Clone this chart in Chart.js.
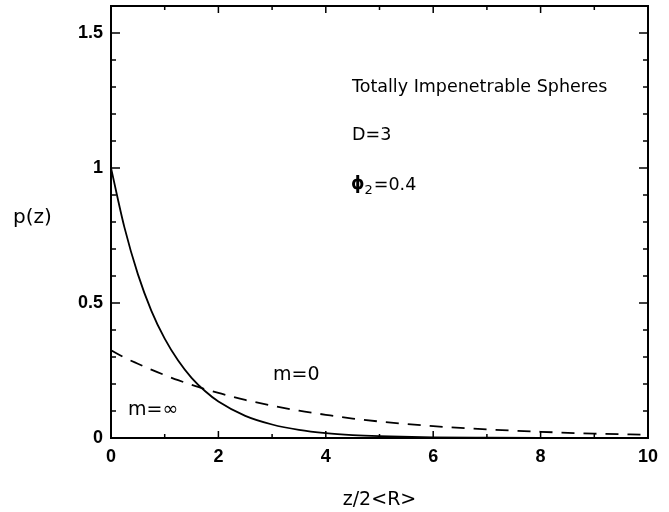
<!DOCTYPE html>
<html>
<head>
<meta charset="utf-8">
<script src="https://cdn.jsdelivr.net/npm/chart.js@4.4.0/dist/chart.umd.min.js"></script>
<style>
  html, body { margin: 0; padding: 0; background: #fff; }
</style>
</head>
<body>
<canvas id="chart" width="669" height="512"></canvas>
<script>
// values
const zValues   = [0, 0.25, 0.5, 0.75, 1, 1.25, 1.5, 1.75, 2, 2.5, 3, 3.5, 4, 4.5, 5, 6, 7, 8, 9, 10];
const pMInf     = [1, 0.78, 0.607, 0.472, 0.368, 0.287, 0.223, 0.174, 0.135, 0.082, 0.050, 0.030, 0.018, 0.011, 0.007, 0.0025, 0.001, 0.0003, 0.0001, 0];
const pMZero    = [0.325, 0.298, 0.275, 0.253, 0.233, 0.214, 0.197, 0.181, 0.167, 0.141, 0.120, 0.101, 0.086, 0.072, 0.061, 0.044, 0.032, 0.023, 0.016, 0.012];
const xTicks = [0, 2, 4, 6, 8, 10];
const yTicks = [0, 0.5, 1, 1.5];

const toPoints = (ys) => zValues.map((z, i) => ({ x: z, y: ys[i] }));

const frameAndText = {
  id: "frameAndText",
  afterDatasetsDraw(chart) {
    const { ctx, chartArea: a, scales: { x, y } } = chart;
    ctx.save();
    ctx.strokeStyle = "#000";
    ctx.lineWidth = 2;
    ctx.strokeRect(a.left, a.top, a.right - a.left, a.bottom - a.top);

    ctx.lineWidth = 1.5;
    ctx.beginPath();
    for (let i = 0; i <= 10; i++) {
      const px = x.getPixelForValue(i);
      const len = i % 2 === 0 ? 7 : 4;
      ctx.moveTo(px, a.bottom); ctx.lineTo(px, a.bottom - len);
      ctx.moveTo(px, a.top); ctx.lineTo(px, a.top + len);
    }
    for (let k = 0; k <= 16; k++) {
      const py = y.getPixelForValue(k / 10);
      const len = k % 5 === 0 ? 9 : 5;
      ctx.moveTo(a.left, py); ctx.lineTo(a.left + len, py);
      ctx.moveTo(a.right, py); ctx.lineTo(a.right - len, py);
    }
    ctx.stroke();

    // axis titles
    ctx.fillStyle = "#000";
    ctx.font = "20px 'DejaVu Sans'";
    ctx.textBaseline = "middle";
    ctx.textAlign = "left";
    ctx.fillText("p(z)", 13, 218);
    ctx.textAlign = "center";
    ctx.font = "19px 'DejaVu Sans'";
    ctx.fillText("z/2<R>", (a.left + a.right) / 2, 500);

    // annotations
    ctx.font = "17.5px 'DejaVu Sans'";
    ctx.textAlign = "left";
    ctx.fillText("Totally Impenetrable Spheres", 352, 87);
    ctx.fillText("D=3", 352, 135);
    ctx.font = "bold 17px 'DejaVu Sans'";
    ctx.fillText("\u03D5", 351, 185);
    let w = ctx.measureText("\u03D5").width;
    ctx.font = "13px 'DejaVu Sans'";
    ctx.fillText("2", 351 + w, 191);
    let w2 = ctx.measureText("2").width;
    ctx.font = "17.5px 'DejaVu Sans'";
    ctx.fillText("=0.4", 351 + w + w2 + 1, 185);

    ctx.font = "19px 'DejaVu Sans'";
    ctx.fillText("m=0", 273, 375);
    ctx.fillText("m=\u221E", 128, 410);
    ctx.restore();
  },
};

new Chart(document.getElementById("chart"), {
  type: "line",
  data: {
    datasets: [
      {
        label: "m=\u221E",
        data: toPoints(pMInf),
        borderColor: "#000",
        borderWidth: 1.8,
        pointRadius: 0,
        cubicInterpolationMode: "monotone",
      },
      {
        label: "m=0",
        data: toPoints(pMZero),
        borderColor: "#000",
        borderWidth: 1.8,
        borderDash: [13, 9],
        pointRadius: 0,
        cubicInterpolationMode: "monotone",
      },
    ],
  },
  options: {
    responsive: false,
    animation: false,
    layout: { padding: { top: 6, right: 21, left: 0, bottom: 0 } },
    plugins: { legend: { display: false }, tooltip: { enabled: false } },
    scales: {
      x: {
        type: "linear",
        min: 0,
        max: 10,
        grid: { display: false },
        border: { display: false },
        afterBuildTicks: (s) => { s.ticks = xTicks.map((v) => ({ value: v })); },
        afterFit: (s) => { s.height = 74; s.paddingLeft = 0; s.paddingRight = 0; },
        ticks: {
          color: "#000",
          padding: 0,
          maxRotation: 0,
          font: { family: "'Liberation Sans'", size: 18, weight: "bold" },
        },
      },
      y: {
        min: 0,
        max: 1.6,
        grid: { display: false },
        border: { display: false },
        afterBuildTicks: (s) => { s.ticks = yTicks.map((v) => ({ value: v })); },
        afterFit: (s) => { s.width = 111; s.paddingTop = 0; s.paddingBottom = 0; },
        ticks: {
          color: "#000",
          padding: 0,
          font: { family: "'Liberation Sans'", size: 18, weight: "bold" },
          callback: (v) => String(v),
        },
      },
    },
  },
  plugins: [frameAndText],
});
</script>
</body>
</html>
